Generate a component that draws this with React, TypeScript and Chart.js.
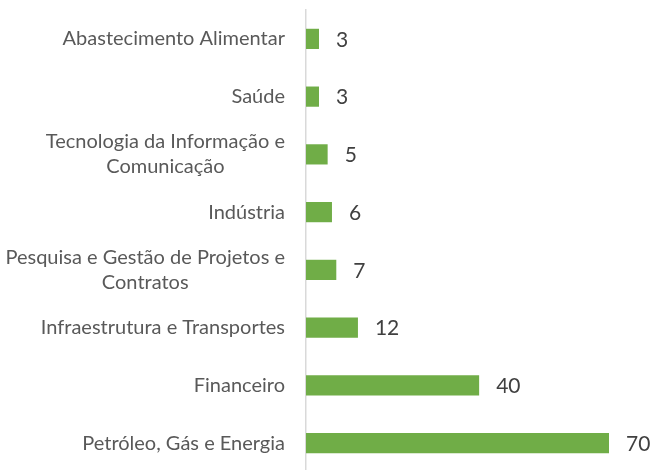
import React, { useEffect, useRef } from "react";
import { Chart, registerables } from "chart.js";

Chart.register(...registerables);

const categories: (string | string[])[] = [
  "Abastecimento Alimentar",
  "Saúde",
  ["Tecnologia da Informação e", "Comunicação"],
  "Indústria",
  ["Pesquisa e Gestão de Projetos e", "Contratos"],
  "Infraestrutura e Transportes",
  "Financeiro",
  "Petróleo, Gás e Energia",
];
const values: number[] = [3, 3, 5, 6, 7, 12, 40, 70];

const FONT = "Lato, sans-serif";

const valueLabels = {
  id: "valueLabels",
  afterDatasetsDraw(chart: any) {
    const ctx = chart.ctx;
    const meta = chart.getDatasetMeta(0);
    ctx.save();
    ctx.font = `21px ${FONT}`;
    ctx.fillStyle = "#404040";
    ctx.textAlign = "left";
    ctx.textBaseline = "middle";
    meta.data.forEach((bar: any, i: number) => {
      ctx.fillText(String(values[i]), bar.x + 17, bar.y + 1);
    });
    ctx.restore();
  },
};

const categoryLabels = {
  id: "categoryLabels",
  afterDraw(chart: any) {
    const ctx = chart.ctx;
    const yScale = chart.scales.y;
    const right = yScale.right - 21;
    const lh = 25;
    ctx.save();
    ctx.font = `20px ${FONT}`;
    ctx.fillStyle = "#595959";
    ctx.textAlign = "center";
    ctx.textBaseline = "middle";
    categories.forEach((cat, i) => {
      const lines = Array.isArray(cat) ? cat : [cat];
      const w = Math.max(...lines.map((l) => ctx.measureText(l).width));
      const cx = right - w / 2;
      const cy = yScale.getPixelForTick(i);
      const start = cy - ((lines.length - 1) * lh) / 2;
      lines.forEach((l, j) => ctx.fillText(l, cx, start + j * lh));
    });
    ctx.restore();
  },
};

export default function App() {
  const ref = useRef<HTMLCanvasElement>(null);
  useEffect(() => {
    document.body.style.margin = "0";
    const chart = new Chart(ref.current!, {
      type: "bar",
      data: {
        labels: categories,
        datasets: [
          {
            data: values,
            backgroundColor: "#70AD47",
            borderWidth: 0,
            barPercentage: 0.35,
            categoryPercentage: 1,
          },
        ],
      },
      options: {
        indexAxis: "y",
        responsive: false,
        animation: false,
        layout: { padding: { top: 10, bottom: 1, right: 43, left: 0 } },
        plugins: { legend: { display: false }, tooltip: { enabled: false } },
        scales: {
          x: {
            display: false,
            min: 0,
            max: 70,
          },
          y: {
            grid: { display: false, drawTicks: false },
            border: { display: true, color: "#D9D9D9", width: 1.5 },
            ticks: { display: false, autoSkip: false },
            afterFit(scale: any) {
              scale.width = 306;
              scale.paddingTop = 0;
              scale.paddingBottom = 0;
            },
          },
        },
      },
      plugins: [valueLabels, categoryLabels],
    });
    return () => chart.destroy();
  }, []);
  return (
    <div style={{ width: 652, height: 470, overflow: "hidden" }}>
      <canvas ref={ref} width={652} height={473} />
    </div>
  );
}
